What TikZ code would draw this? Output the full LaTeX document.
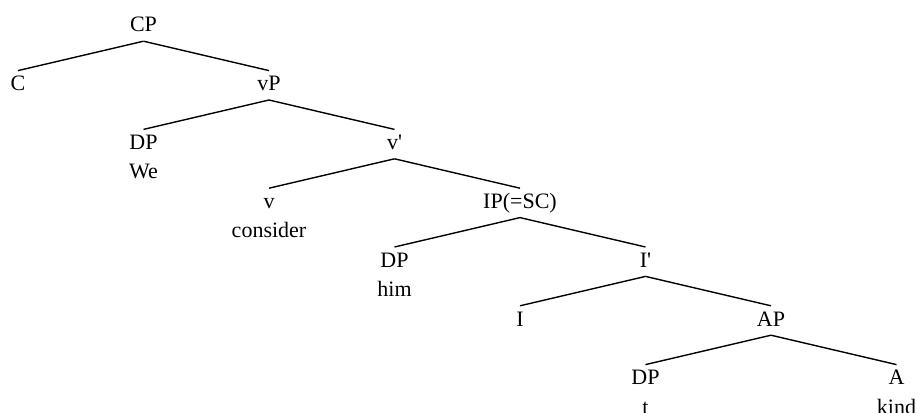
\documentclass[tikz,border=0pt]{standalone}
\usepackage{fontspec}
\setmainfont{Liberation Serif}
\begin{document}
\begin{tikzpicture}[x=1pt,y=1pt,
  lbl/.style={font=\fontsize{22}{26}\selectfont, inner sep=0pt, text height=15pt, text depth=5pt, anchor=base},
  edge/.style={line width=1.4pt}]
\useasboundingbox (0,0) rectangle (917,-412);
% levels (baselines)
\node[lbl] (cp)  at (143.5,-32) {CP};
\node[lbl] (c)   at (18,-90.8) {C};
\node[lbl] (vp)  at (269,-90.8) {vP};
\node[lbl] (dp1) at (143.5,-149.6) {DP};
\node[lbl] (we)  at (143.5,-178.4) {We};
\node[lbl] (vb)  at (394.5,-149.6) {v\textquotesingle};
\node[lbl] (v)   at (269,-208.4) {v};
\node[lbl] (cons) at (269,-237.2) {consider};
\node[lbl] (ip)  at (520,-208.4) {IP(=SC)};
\node[lbl] (dp2) at (394.5,-267.2) {DP};
\node[lbl] (him) at (394.5,-296) {him};
\node[lbl] (ib)  at (645.5,-267.2) {I\textquotesingle};
\node[lbl] (i)   at (520,-326) {I};
\node[lbl] (ap)  at (771,-326) {AP};
\node[lbl] (dp3) at (645.5,-384.8) {DP};
\node[lbl] (t)   at (645.5,-414.5) {t};
\node[lbl] (a)   at (896.5,-384.8) {A};
\node[lbl] (kind) at (896.5,-414.5) {kind};
% edges
\foreach \p/\ch in {cp/c, cp/vp, vp/dp1, vp/vb, vb/v, vb/ip, ip/dp2, ip/ib, ib/i, ib/ap, ap/dp3, ap/a}
  \draw[edge] ([yshift=-4pt]\p.south) -- ([yshift=5pt]\ch.north);
\end{tikzpicture}
\end{document}
